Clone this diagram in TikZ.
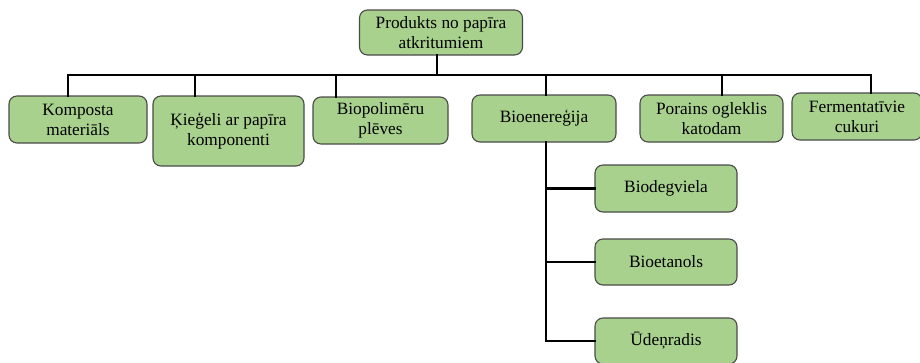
\documentclass[tikz,border=0pt]{standalone}
\usepackage{fontspec}
\setmainfont{Liberation Serif}
\usepackage{tikz}
\definecolor{boxgreen}{HTML}{A9D18E}
\definecolor{boxedge}{HTML}{4A4A4A}
\tikzset{
  prod/.style={draw=boxedge, line width=1.1pt, fill=boxgreen, rounded corners=8pt,
    align=center, inner sep=0pt, font=\fontsize{17.3}{20}\selectfont},
  conn/.style={line width=2.8pt, line cap=rect}
}
\newcommand{\prodbox}[6]{\node[prod, minimum width=#4, minimum height=#5] (#1) at ( #2 , #3 ) {#6};}

\begin{document}
\begin{tikzpicture}[x=1pt,y=-1pt]
        \clip (0,0) rectangle (920,362);
        % top
        \prodbox{top}{441}{32.5}{163}{45}{Produkts no papīra\\atkritumiem}
        \coordinate (hub) at (437,75);

        % row1
        \prodbox{komp}{78}{119.5}{138}{47}{Komposta\\materiāls}
        \prodbox{kieg}{228.5}{131}{151}{70}{Ķieģeli ar papīra\\komponenti}
        \prodbox{biopol}{380.5}{120.5}{135}{47}{Biopolimēru\\plēves}
        \prodbox{bioen}{544}{118.5}{144}{47}{Bioenereģija}
        \prodbox{porains}{711.5}{118.5}{143}{47}{Porains ogleklis\\katodam}
        \prodbox{ferm}{857}{116.5}{130}{47}{Fermentatīvie\\cukuri}

        % row2
        \prodbox{biod}{666}{188.5}{142}{47}{Biodegviela}
        \prodbox{bioet}{666}{262}{142}{46}{Bioetanols}
        \prodbox{udenr}{666}{341}{142}{46}{Ūdeņradis}

        \draw[conn] (top.south -| hub) -- (hub);
        \draw[conn] (hub) -| ([xshift=-10pt]komp.north);
        \draw[conn] (hub) -| ([xshift=-33.5pt]kieg.north);
        \draw[conn] (hub) -| ([xshift=-44.5pt]biopol.north);
        \draw[conn] (hub) -| ([xshift=2pt]bioen.north);
        \draw[conn] (hub) -| ([xshift=10.5pt]porains.north);
        \draw[conn] (hub) -| ([xshift=14pt]ferm.north);

        \draw[conn] ([xshift=2pt]bioen.south) |- (biod.west);
        \draw[conn] ([xshift=2pt]bioen.south) |- (bioet.west);
        \draw[conn] ([xshift=2pt]bioen.south) |- (udenr.west);
    \end{tikzpicture}
\end{document}
